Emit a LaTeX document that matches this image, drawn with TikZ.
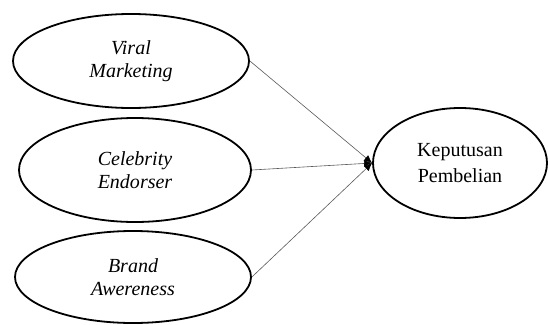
\documentclass[tikz,border=0pt]{standalone}
\usepackage{fontspec}
\setmainfont{Liberation Serif}
\usetikzlibrary{shapes.geometric, arrows.meta, positioning}

\begin{document}
\begin{tikzpicture}[
    x=1pt, y=-1pt,
    % gaya untuk variabel independen (elips kiri)
    var/.style={ellipse, draw=black, line width=1.8pt, minimum width=236pt, minimum height=94pt, align=center, inner sep=0pt, font=\fontsize{20}{23}\selectfont\itshape},
    % gaya untuk variabel dependen (elips kanan)
    dep/.style={ellipse, draw=black, line width=1.8pt, minimum width=174pt, minimum height=110pt, align=center, inner sep=0pt, font=\fontsize{20}{26}\selectfont},
    % gaya untuk panah
    arrow/.style={-{Latex[length=8pt, width=7pt, black]}, line width=0.6pt, draw=gray!70!black}
]
\useasboundingbox (0,0) rectangle (548,324);

% Menempatkan Nodes (elips)
\node (viral) [var] at (131,61) {Viral\\Marketing};
\node (celeb) [var, minimum width=232pt, minimum height=104pt] at (135,170) {Celebrity\\Endorser};
\node (brand) [var, minimum height=92pt] at (133,277) {Brand\\Awereness};
\node (keputusan) [dep] at (460,163) {Keputusan\\Pembelian};

% Menghubungkan Nodes dengan Panah
\draw [arrow] (viral.east) -- (keputusan.west);
\draw [arrow] (celeb.east) -- (keputusan.west);
\draw [arrow] (brand.east) -- (keputusan.west);

\end{tikzpicture}
\end{document}
